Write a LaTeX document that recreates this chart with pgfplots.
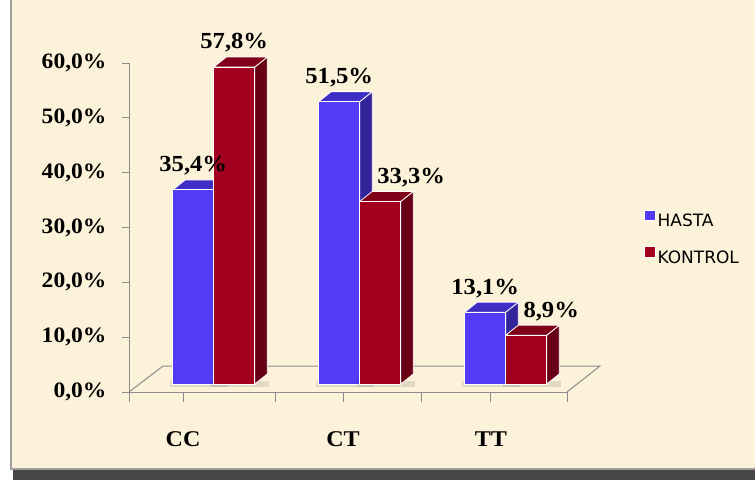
\documentclass[border=0pt]{standalone}
\usepackage{pgfplots}
\pgfplotsset{compat=1.18}
\usepackage{pgfplotstable}
\usepackage{fontspec}
\setmainfont{Liberation Serif}[FakeStretch=1.07]
\newfontfamily\legfont{DejaVu Sans}

\definecolor{bg}{RGB}{252,242,217}
\definecolor{hastaF}{RGB}{83,58,245}
\definecolor{hastaS}{RGB}{52,36,155}
\definecolor{hastaT}{RGB}{64,46,196}
\definecolor{kontF}{RGB}{163,0,32}
\definecolor{kontS}{RGB}{104,0,22}
\definecolor{kontT}{RGB}{128,0,26}
\definecolor{axgray}{RGB}{140,140,140}

% x = category position, h = value (%), xl = label position
\pgfplotstableread{
x h xl
0.5 35.4 0.5
1.5 51.5 1.5
2.5 13.1 2.5
}\hasta
\pgfplotstableread{
x h xl
0.5 57.8 0.5
1.5 33.3 1.712
2.5 8.9 2.671
}\kontrol

\pgfdeclareplotmark{emptymark}{}
\newcommand\drawbar[4]{%
  \pgfscope
  \pgfmathsetmacro\bh{\hval*5.48333}%
  \pgftransformshift{\pgfpoint{#1pt}{8pt}}%
  % soft shadow on the floor
  \pgfsetfillcolor{black}\pgfsetfillopacity{0.10}%
  \pgfpathrectangle{\pgfpoint{-23pt}{-\bh pt-3pt}}{\pgfpoint{58pt}{6pt}}%
  \pgfusepath{fill}%
  \pgfsetfillopacity{1}%
  \pgfsetlinewidth{0.8pt}%
  \pgfsetstrokecolor{white}%
  \pgfsetfillcolor{#3}%
  \pgfpathmoveto{\pgfpoint{20.5pt}{0pt}}%
  \pgfpathlineto{\pgfpoint{33pt}{10pt}}%
  \pgfpathlineto{\pgfpoint{33pt}{10pt-\bh pt}}%
  \pgfpathlineto{\pgfpoint{20.5pt}{-\bh pt}}%
  \pgfpathclose
  \pgfusepath{fill,stroke}%
  \pgfsetfillcolor{#4}%
  \pgfpathmoveto{\pgfpoint{-20.5pt}{0pt}}%
  \pgfpathlineto{\pgfpoint{-8pt}{10pt}}%
  \pgfpathlineto{\pgfpoint{33pt}{10pt}}%
  \pgfpathlineto{\pgfpoint{20.5pt}{0pt}}%
  \pgfpathclose
  \pgfusepath{fill,stroke}%
  \pgfsetfillcolor{#2}%
  \pgfpathrectangle{\pgfpoint{-20.5pt}{-\bh pt}}{\pgfpoint{41pt}{\bh pt}}%
  \pgfusepath{fill,stroke}%
  \endpgfscope
}

\begin{document}
\begin{tikzpicture}
\path[use as bounding box] (0pt,0pt) rectangle (755pt,-482pt);
\fill[white] (0pt,0pt) rectangle (755pt,-482pt);
\fill[black!72] (13pt,-470pt) rectangle (755pt,-480pt);
\fill[bg] (10pt,0pt) rectangle (755pt,-469pt);
\draw[gray!75, line width=1.5pt] (10.75pt,0pt) -- (10.75pt,-469pt) -- (755pt,-469pt);

\begin{axis}[
  at={(129pt,-392pt)}, anchor=south west,
  scale only axis, width=438pt, height=329pt,
  xmin=0, xmax=3, ymin=0, ymax=60,
  enlargelimits=false, clip=false,
  axis lines=left,
  axis line style={axgray, line width=1pt, -},
  tick style={axgray, line width=1pt},
  tick align=outside,
  major tick length=7pt,
  ytick={0,10,...,60},
  /pgf/number format/.cd, use comma, fixed, fixed zerofill, precision=1, assume math mode=true,
  /pgfplots/.cd,
  yticklabel={\pgfmathprintnumber{\tick}\%},
  yticklabel style={font=\fontsize{22}{22}\selectfont\bfseries, xshift=-12pt},
  xtick={0,1,2,3}, xticklabels={},
  xtick style={/pgfplots/major tick length=10pt},
  extra x ticks={0.37,1.466,2.479},
  extra x tick labels={CC,CT,TT},
  extra x tick style={major tick length=0pt},
  xticklabel style={font=\fontsize{22.5}{22.5}\selectfont\bfseries, yshift=-36pt},
  legend style={at={(1.176,0.4666)}, anchor=west, draw=none, fill=none,
    font=\legfont\fontsize{17}{17}\selectfont, row sep=16pt, inner sep=0pt},
  legend cell align=left,
]
\draw[axgray, line width=1pt] (axis cs:0,0) -- (axis cs:0.233,4.74) -- (axis cs:3.226,4.74) -- (axis cs:3,0);

\addplot[only marks, scatter, mark=emptymark,
  scatter/@pre marker code/.code={\drawbar{-8.75}{hastaF}{hastaS}{hastaT}},
  scatter/@post marker code/.code={},
  visualization depends on={rawy\as\hval},
  legend image code/.code={\draw[white, fill=hastaF, line width=0.8pt] (0pt,0.9pt) rectangle (10.5pt,11.4pt);}]
  table[x=x, y=h] {\hasta};
\addlegendentry{HASTA}
\addplot[only marks, scatter, mark=emptymark,
  scatter/@pre marker code/.code={\drawbar{32.25}{kontF}{kontS}{kontT}},
  scatter/@post marker code/.code={},
  visualization depends on={rawy\as\hval},
  legend image code/.code={\draw[white, fill=kontF, line width=0.8pt] (0pt,0.9pt) rectangle (10.5pt,11.4pt);}]
  table[x=x, y=h] {\kontrol};
\addlegendentry{KONTROL}

\addplot[only marks, mark=emptymark, forget plot,
  nodes near coords={\pgfmathprintnumber{\pgfplotspointmeta}\%},
  every node near coord/.append style={anchor=center, xshift=-8.75pt, yshift=32pt,
    font=\fontsize{23}{23}\selectfont\bfseries, text=black}]
  table[x=xl, y=h] {\hasta};
\addplot[only marks, mark=emptymark, forget plot,
  nodes near coords={\pgfmathprintnumber{\pgfplotspointmeta}\%},
  every node near coord/.append style={anchor=center, xshift=32.25pt, yshift=32pt,
    font=\fontsize{23}{23}\selectfont\bfseries, text=black}]
  table[x=xl, y=h] {\kontrol};
\end{axis}
\end{tikzpicture}
\end{document}
